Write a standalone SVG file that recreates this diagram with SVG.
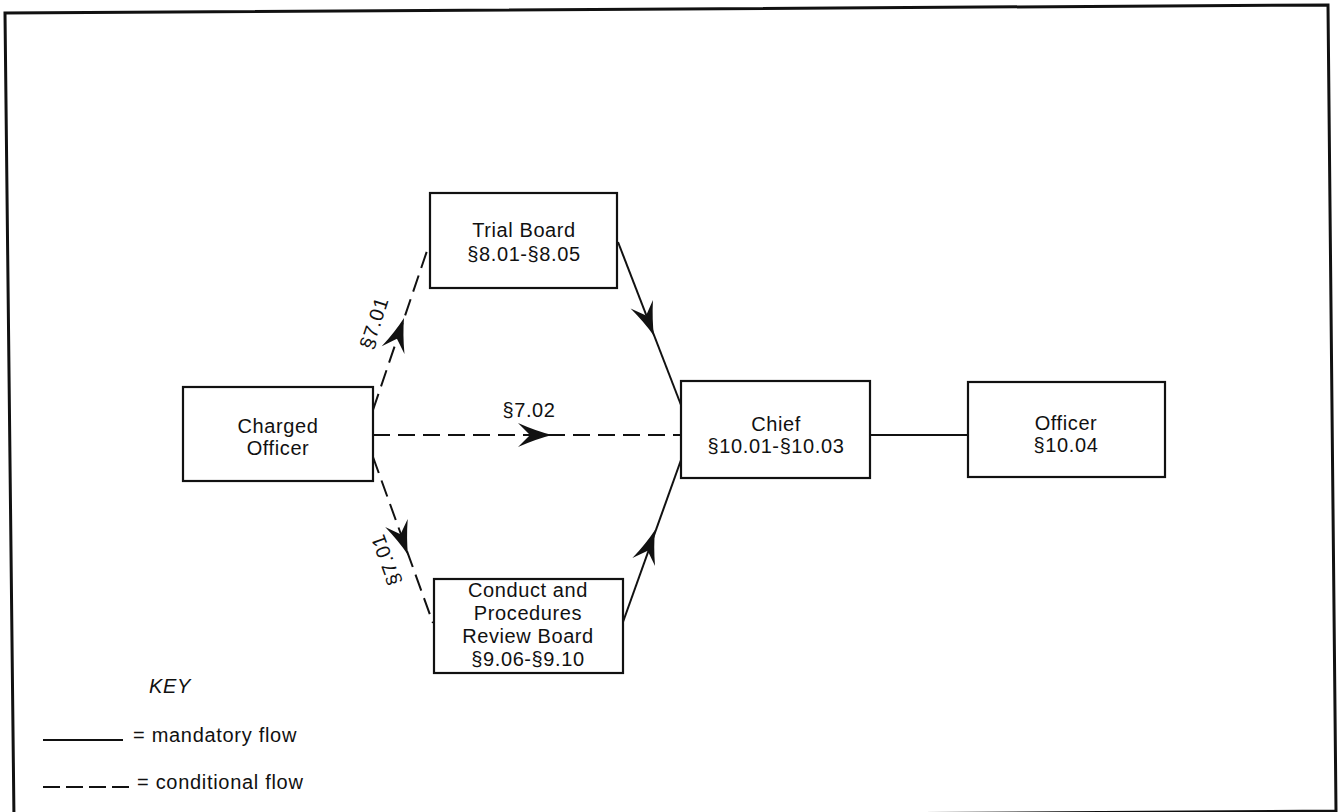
<svg xmlns="http://www.w3.org/2000/svg" xmlns:xlink="http://www.w3.org/1999/xlink" width="1340" height="812" viewBox="0 0 1340 812">
<style>
  .box { fill: #fff; stroke: #111; stroke-width: 2.2; }
  .t { font-family: "Liberation Sans", Arial, sans-serif; font-size: 20px; fill: #111; text-anchor: middle; letter-spacing: 0.6px; }
  .solid { stroke: #111; stroke-width: 2; fill: none; }
  .dash { stroke: #111; stroke-width: 2; fill: none; stroke-dasharray: 17 8; }
  .ah { fill: #111; }
  .lt { font-family: "Liberation Sans", Arial, sans-serif; font-size: 20px; fill: #111; letter-spacing: 0.7px; }
</style>
<defs>
  <path id="ah" d="M0,0 Q-16,-4 -34,-12 L-22,0 L-34,12 Q-16,4 0,0 Z"/>
</defs>
<rect x="0" y="0" width="1340" height="812" fill="#fff"/>
<path d="M14,820 L5,13 L1328,5 L1336,811 L14,819" fill="none" stroke="#111" stroke-width="3"/>

<g id="connectors">
  <line class="dash" x1="373" y1="410" x2="429" y2="245"/>
  <use href="#ah" class="ah" transform="translate(404,318) rotate(-71.3)"/>
  <text class="t" transform="translate(374,323) rotate(-72)" x="0" y="7">§7.01</text>

  <line class="dash" x1="373" y1="435" x2="681" y2="435"/>
  <use href="#ah" class="ah" transform="translate(552,435)"/>
  <text class="t" x="529" y="417">§7.02</text>

  <line class="dash" x1="373" y1="457" x2="433" y2="623"/>
  <use href="#ah" class="ah" transform="translate(408,555) rotate(70.1)"/>
  <text class="t" transform="translate(386,560) rotate(-110)" x="0" y="7">§7.01</text>

  <line class="solid" x1="618" y1="242" x2="681" y2="405"/>
  <use href="#ah" class="ah" transform="translate(654,336) rotate(68.9)"/>

  <line class="solid" x1="623" y1="622" x2="681" y2="460"/>
  <use href="#ah" class="ah" transform="translate(655,530) rotate(-70.6)"/>

  <line class="solid" x1="870" y1="435" x2="968" y2="435"/>
</g>

<g id="charged-officer">
  <rect class="box" x="183" y="387" width="190" height="94"/>
  <text class="t" x="278" y="433">Charged</text>
  <text class="t" x="278" y="455">Officer</text>
</g>

<g id="trial-board">
  <rect class="box" x="430" y="193" width="187" height="95"/>
  <text class="t" x="524" y="237">Trial Board</text>
  <text class="t" x="524" y="261">§8.01-§8.05</text>
</g>

<g id="review-board">
  <rect class="box" x="434" y="579" width="189" height="94"/>
  <text class="t" x="528" y="597">Conduct and</text>
  <text class="t" x="528" y="620">Procedures</text>
  <text class="t" x="528" y="643">Review Board</text>
  <text class="t" x="528" y="666">§9.06-§9.10</text>
</g>

<g id="chief">
  <rect class="box" x="681" y="381" width="189" height="97"/>
  <text class="t" x="776" y="431">Chief</text>
  <text class="t" x="776" y="453">§10.01-§10.03</text>
</g>

<g id="officer">
  <rect class="box" x="968" y="382" width="197" height="95"/>
  <text class="t" x="1066" y="430">Officer</text>
  <text class="t" x="1066" y="452">§10.04</text>
</g>

<g id="key">
  <text class="lt" x="149" y="693" font-style="italic" font-size="21">KEY</text>
  <line class="solid" x1="43" y1="740" x2="123" y2="740"/>
  <text class="lt" x="133" y="742">= mandatory flow</text>
  <line stroke="#111" stroke-width="2" stroke-dasharray="17 6" x1="43" y1="787" x2="130" y2="787"/>
  <text class="lt" x="137" y="789">= conditional flow</text>
</g>
</svg>
